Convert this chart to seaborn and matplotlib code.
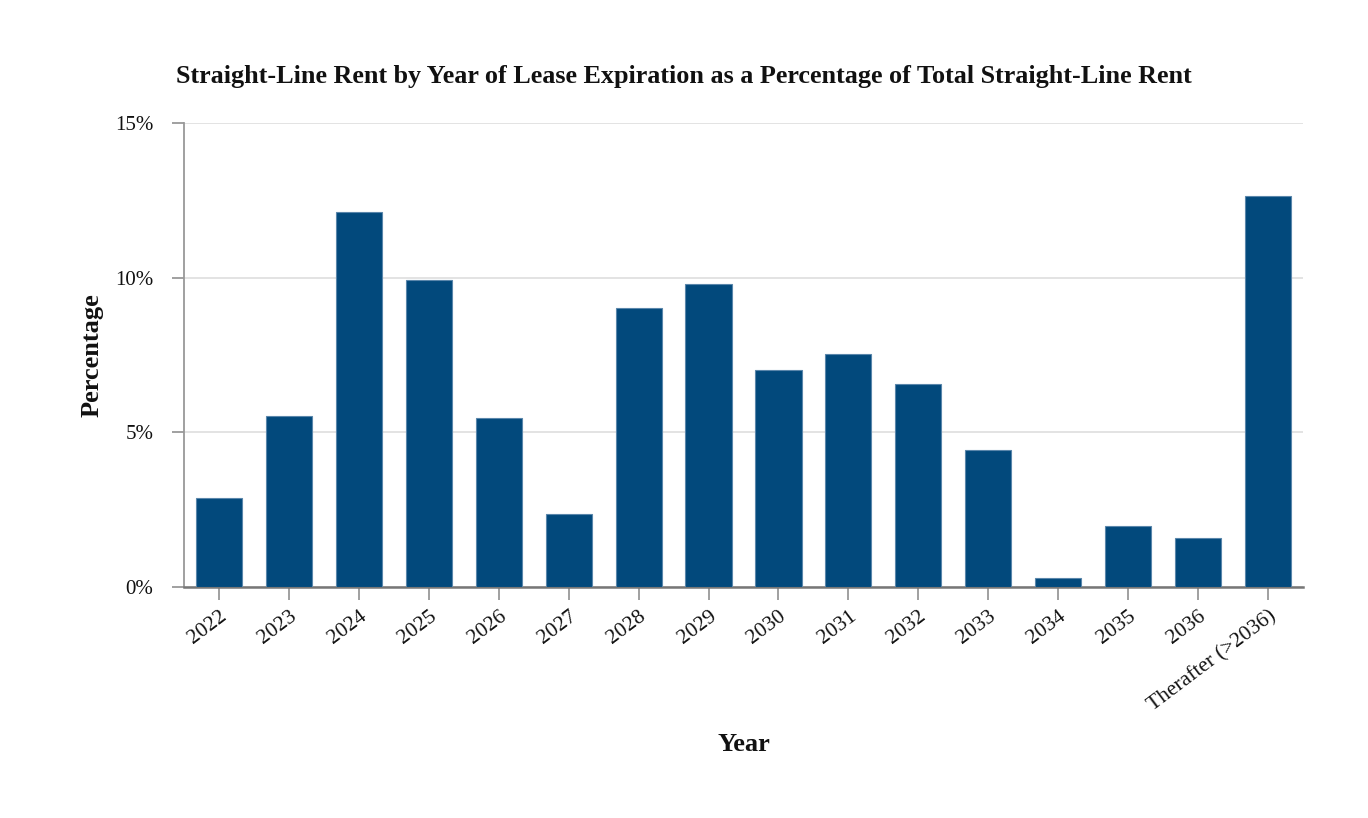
import numpy as np
import pandas as pd
import matplotlib
matplotlib.use("Agg")
import matplotlib.pyplot as plt
import seaborn as sns
from matplotlib.ticker import FuncFormatter

years = ["2022", "2023", "2024", "2025", "2026", "2027", "2028", "2029",
         "2030", "2031", "2032", "2033", "2034", "2035", "2036",
         "Therafter (>2036)"]
percentages = [2.88, 5.53, 12.12, 9.93, 5.46, 2.36, 9.02, 9.80,
               7.02, 7.53, 6.56, 4.43, 0.29, 1.97, 1.58, 12.64]
y_ticks = [0, 5, 10, 15]

sns.set_theme(style="white")
plt.rcParams["font.family"] = ["Liberation Serif", "DejaVu Serif"]

df = pd.DataFrame({"Year": years, "Percentage": percentages})

fig = plt.figure(figsize=(13.68, 8.18), dpi=100)
ax = fig.add_axes([0.1345, 0.2824, 0.818, 0.5672])

sns.barplot(data=df, x="Year", y="Percentage", color="#02497c", width=0.66,
            edgecolor="#5a86ab", linewidth=0.8, saturation=1, ax=ax, zorder=3)

ax.set_ylim(0, 15)
ax.set_xlim(-0.5, len(years) - 0.5)
ax.set_yticks(y_ticks)
ax.yaxis.set_major_formatter(FuncFormatter(lambda v, p: f"{v:.0f}%"))
ax.grid(axis="y", color="#e3e3e3", linewidth=1.4, zorder=0)
ax.grid(axis="x", visible=False)

for s in ["top", "right"]:
    ax.spines[s].set_visible(False)
ax.spines["left"].set_color("#999999")
ax.spines["left"].set_linewidth(1.3)
ax.spines["bottom"].set_color("#777777")
ax.spines["bottom"].set_linewidth(1.8)

ax.tick_params(axis="y", which="major", left=True, length=9, width=1.3,
               color="#999999", labelsize=15, pad=13, labelcolor="#111111")
ax.tick_params(axis="x", which="major", bottom=True, length=9, width=1.3,
               color="#999999", labelsize=15.5, pad=5, labelcolor="#111111")
plt.setp(ax.get_xticklabels(), rotation=37, ha="right", rotation_mode="anchor")

ax.set_xlabel("Year", fontsize=19, fontweight="bold", labelpad=13, color="#111111")
ax.set_ylabel("Percentage", fontsize=19, fontweight="bold", labelpad=8, color="#111111")

fig.text(0.5, 1 - 77 / 818, "Straight-Line Rent by Year of Lease Expiration as a Percentage of Total Straight-Line Rent",
         ha="center", va="center", fontsize=18.8, fontweight="bold", color="#111111")

fig.savefig("out.png", dpi=100)
